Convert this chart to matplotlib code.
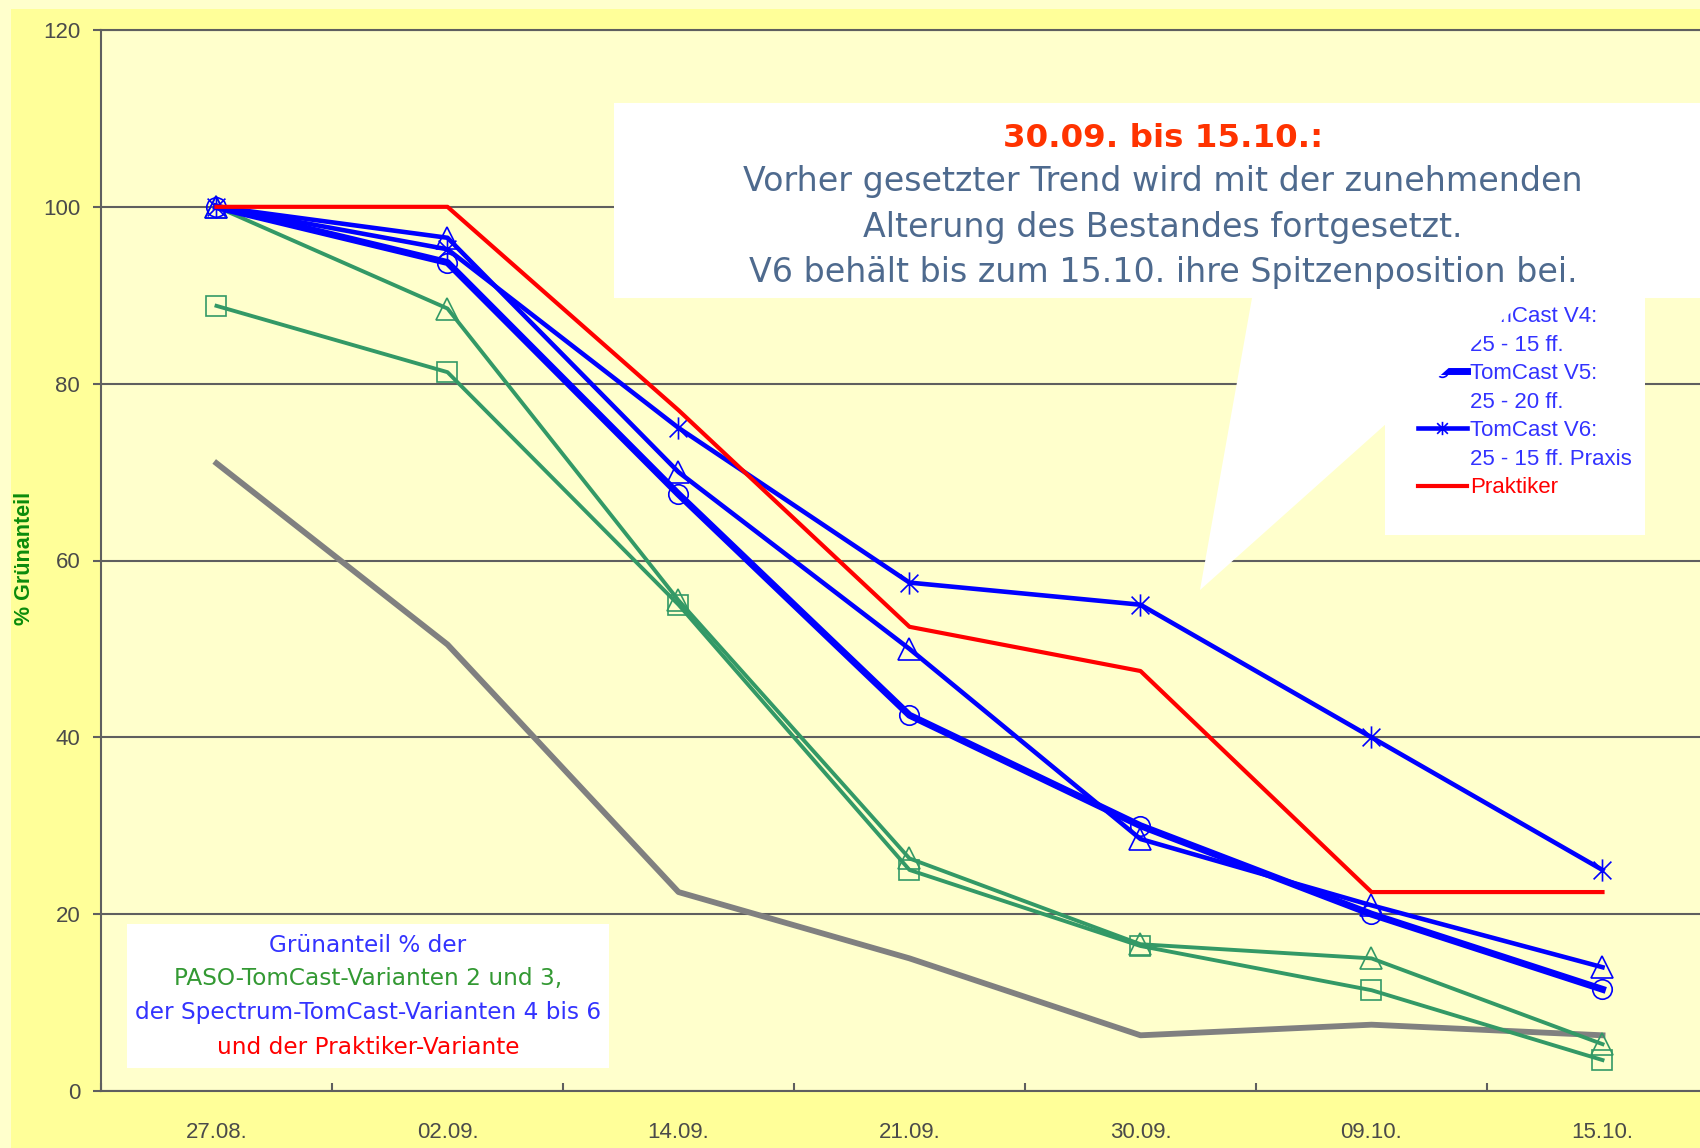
import numpy as np
import matplotlib
matplotlib.use("Agg")
import matplotlib.pyplot as plt
from matplotlib import font_manager
from matplotlib.path import Path
from matplotlib.lines import Line2D
from matplotlib.patches import Rectangle, Polygon

# Daten (Grünanteil in %)
dates = ["27.08.", "02.09.", "14.09.", "21.09.", "30.09.", "09.10.", "15.10."]
kontrolle = [71.0, 50.5, 22.5, 15.0, 6.3, 7.5, 6.3]
v2 = [100.0, 88.5, 55.5, 26.3, 16.6, 15.0, 5.3]
v3 = [88.8, 81.3, 55.0, 25.0, 16.4, 11.4, 3.5]
v4 = [100.0, 96.5, 70.0, 50.0, 28.5, 21.0, 14.0]
v5 = [100.0, 93.7, 67.5, 42.5, 30.0, 20.0, 11.5]
v6 = [100.0, 95.2, 75.0, 57.5, 55.0, 40.0, 25.0]
praktiker = [100.0, 100.0, 77.0, 52.5, 47.5, 22.5, 22.5]

legend_labels = ["TomCast V4:", "25 - 15 ff.", "TomCast V5:", "25 - 20 ff.",
                 "TomCast V6:", "25 - 15 ff. Praxis", "Praktiker"]

# Schriften suchen
installed = {f.name for f in font_manager.fontManager.ttflist}
have_narrow = "Liberation Sans Narrow" in installed
narrow = "Liberation Sans Narrow" if have_narrow else "Liberation Sans"
have_cond = "DejaVu Sans Condensed" in installed
cond = "DejaVu Sans Condensed" if have_cond else "DejaVu Sans"

tick_size = 17 if have_narrow else 16
cond_scale = 1.0 if have_cond else 0.92

W, H = 1700, 1148
fig = plt.figure(figsize=(W / 100, H / 100), dpi=100, facecolor="#FFFFCC")


def fx(px):
    return px / W


def fy(py):
    return 1 - py / H


# gelbe Diagrammfläche
fig.add_artist(Rectangle((fx(11), 0), 1, fy(9), transform=fig.transFigure,
                         facecolor="#FFFF99", edgecolor="none", zorder=-1))

ax = fig.add_axes([fx(101), 1 - 1091 / H, 1617 / W, (1091 - 30) / H])
ax.set_facecolor("#FFFFCC")

x = np.arange(len(dates))

# Sternchen-Marker wie in Excel
stern = Path([(-1, -1), (1, 1), (-1, 1), (1, -1), (0, -1.25), (0, 1.25)],
             [Path.MOVETO, Path.LINETO] * 3)

gruen = "#339966"
blau = "#0000FF"
rot = "#FF0000"

ax.plot(x, kontrolle, color="#808080", lw=4.2, zorder=2)
ax.plot(x, v3, color=gruen, lw=2.8, marker="s", ms=14, mfc="none",
        mec=gruen, mew=1.2, zorder=3)
ax.plot(x, v2, color=gruen, lw=2.8, marker="^", ms=16, mfc="none",
        mec=gruen, mew=1.2, zorder=3)
l4, = ax.plot(x, v4, color=blau, lw=3.3, marker="^", ms=16, mfc="none",
              mec=blau, mew=1.2, zorder=4)
l5, = ax.plot(x, v5, color=blau, lw=5.0, marker="o", ms=14, mfc="none",
              mec=blau, mew=1.2, zorder=4)
l6, = ax.plot(x, v6, color=blau, lw=3.3, marker=stern, ms=16,
              mec=blau, mew=1.2, zorder=4)
lp, = ax.plot(x, praktiker, color=rot, lw=3.0, zorder=5)

ax.set_xlim(-0.5, len(dates) - 0.5)
ax.set_ylim(0, 120)
ax.set_yticks(np.arange(0, 121, 20))
ax.set_axisbelow(True)
ax.grid(axis="y", color="#5f5f5f", lw=1.5)

# Striche zwischen den Kategorien, Beschriftung in der Mitte
ax.set_xticks(np.arange(-0.5, len(dates), 1))
ax.set_xticklabels([])
ax.set_xticks(x, minor=True)
ax.set_xticklabels(dates, minor=True)
ax.tick_params(axis="x", which="major", direction="in", length=6,
               width=1.5, color="#5f5f5f")
ax.tick_params(axis="x", which="minor", length=0, pad=22,
               labelsize=tick_size, labelcolor="#4a4a4a")
ax.tick_params(axis="y", direction="out", length=6, width=1.5,
               color="#5f5f5f", pad=9, labelsize=tick_size,
               labelcolor="#4a4a4a")
for lab in ax.get_xticklabels(minor=True) + ax.get_yticklabels():
    lab.set_family(narrow)

for side in ["left", "bottom", "top"]:
    ax.spines[side].set_color("#5f5f5f")
    ax.spines[side].set_linewidth(1.5)
ax.spines["right"].set_visible(False)

fig.text(fx(25), fy(558), "% Grünanteil", rotation=90, ha="center",
         va="center", color="#0B8B0B", fontweight="bold", family=narrow,
         fontsize=17 if have_narrow else 15.5)

# Legende (oben vom Textkasten verdeckt)
fig.add_artist(Rectangle((fx(1385), fy(535)), (1645 - 1385) / W,
                         (535 - 298) / H, transform=fig.transFigure,
                         facecolor="white", edgecolor="none", zorder=1))
leer = Line2D([], [], color="none")
leg = fig.legend([l4, leer, l5, leer, l6, leer, lp], legend_labels,
                 loc="upper left", bbox_to_anchor=(fx(1418), fy(306)),
                 frameon=False, borderpad=0, borderaxespad=0,
                 handlelength=2.2, handletextpad=0.15, labelspacing=0.34,
                 markerscale=0.6,
                 prop={"family": narrow, "size": tick_size},
                 labelcolor=["#3333FF"] * 6 + [rot])
leg.set_zorder(2)

# Sprechblase
blase = [(614, 103), (1700, 103), (1700, 298), (1527, 298), (1200, 590),
         (1252, 298), (614, 298)]
fig.add_artist(Polygon([(fx(a), fy(b)) for a, b in blase], closed=True,
                       transform=fig.transFigure, facecolor="white",
                       edgecolor="none", zorder=3))
fig.text(fx(1163), fy(139), "30.09. bis 15.10.:", ha="center", va="center",
         color="#FF3300", fontweight="bold", family=cond,
         fontsize=26 * 0.9 if not have_cond else 26, zorder=4)
fig.text(fx(1163), fy(227),
         "Vorher gesetzter Trend wird mit der zunehmenden\n"
         "Alterung des Bestandes fortgesetzt.\n"
         "V6 behält bis zum 15.10. ihre Spitzenposition bei.",
         ha="center", va="center", multialignment="center",
         color="#4E6A8E", family=cond, fontsize=26 * cond_scale,
         linespacing=1.47, zorder=4)

# Textkasten unten links
fig.add_artist(Rectangle((fx(127), fy(1068)), (609 - 127) / W,
                         (1068 - 924) / H, transform=fig.transFigure,
                         facecolor="white", edgecolor="none", zorder=3))
kasten = [("Grünanteil % der", "#3333FF", 945),
          ("PASO-TomCast-Varianten 2 und 3,", "#339933", 979),
          ("der Spectrum-TomCast-Varianten 4 bis 6", "#3333FF", 1012),
          ("und der Praktiker-Variante", rot, 1047)]
for txt, col, yy in kasten:
    fig.text(fx(368), fy(yy), txt, ha="center", va="center", color=col,
             family=cond, fontsize=18.5 * 0.9 if not have_cond else 18.5,
             zorder=4)

fig.savefig("out.png", dpi=100, facecolor=fig.get_facecolor())
